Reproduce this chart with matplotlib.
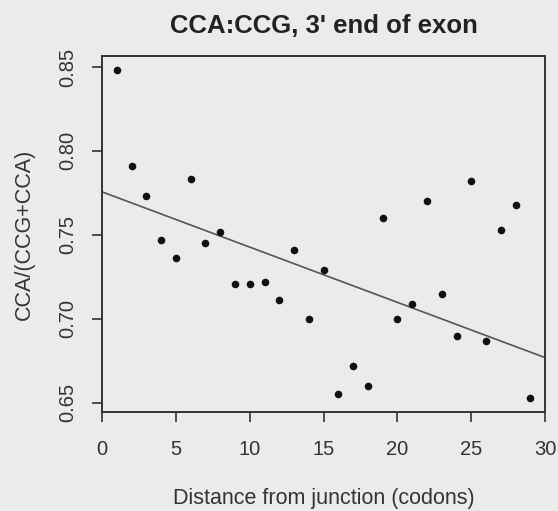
"""
CCA:CCG usage at the 3' end of exons, by distance from the junction.
R base-graphics look: boxed axes, outward ticks, rotated y tick labels.
"""

import matplotlib

matplotlib.use("Agg")
import matplotlib.pyplot as plt

# distance from junction (codons) and CCA/(CCG+CCA) ratio
distance = [1, 2, 3, 4, 5, 6, 7, 8, 9, 10, 11, 12, 13, 14, 15,
            16, 17, 18, 19, 20, 21, 22, 23, 24, 25, 26, 27, 28, 29]
ratio = [0.848, 0.791, 0.773, 0.747, 0.736, 0.783, 0.745, 0.752, 0.721, 0.721,
         0.722, 0.711, 0.741, 0.700, 0.729, 0.655, 0.672, 0.660, 0.760, 0.700,
         0.709, 0.770, 0.715, 0.690, 0.782, 0.687, 0.753, 0.768, 0.653]

# fitted line as drawn (intercept, slope)
fit_intercept = 0.7756
fit_slope = -0.00329

x_ticks = [0, 5, 10, 15, 20, 25, 30]
y_ticks = [0.65, 0.70, 0.75, 0.80, 0.85]

BG = "#ebebeb"
INK = "#333333"
plt.rcParams["font.family"] = ["Liberation Sans", "DejaVu Sans"]

fig = plt.figure(figsize=(5.58, 5.11), dpi=100)
fig.patch.set_facecolor(BG)
ax = fig.add_axes([0.183, 0.194, 0.794, 0.696])
ax.set_facecolor(BG)

ax.scatter(distance, ratio, s=30, color="#111111", zorder=3, linewidths=0)
ax.axline((0, fit_intercept), slope=fit_slope, color="#555555", lw=1.2, zorder=2)

ax.set_xlim(0, 30)
ax.set_ylim(0.6446, 0.8564)
ax.set_xticks(x_ticks)
ax.set_yticks(y_ticks)
ax.set_xticklabels([str(t) for t in x_ticks])
ax.set_yticklabels([f"{t:.2f}" for t in y_ticks], rotation=90, va="center")
ax.tick_params(direction="out", length=7, width=1.2, colors=INK,
               labelsize=14.5)
ax.tick_params(axis="x", pad=13)
ax.tick_params(axis="y", pad=11)
for spine in ax.spines.values():
    spine.set_color(INK)
    spine.set_linewidth(1.4)

ax.set_xlabel("Distance from junction (codons)", color=INK, fontsize=15.5,
              labelpad=21)
ax.set_ylabel("CCA/(CCG+CCA)", color=INK, fontsize=15.5, labelpad=17)
ax.set_title("CCA:CCG, 3' end of exon", color="#222222", fontsize=18.5,
             fontweight="bold", pad=17)

plt.savefig("out.png", facecolor=fig.get_facecolor())
plt.close(fig)
